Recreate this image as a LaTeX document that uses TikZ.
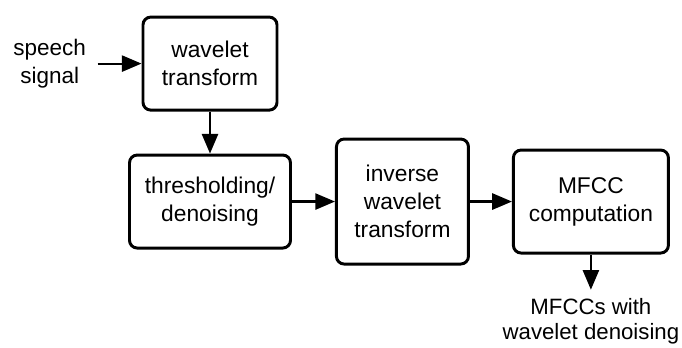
\documentclass[tikz,border=0pt]{standalone}
\usepackage{fontspec}
\setmainfont{Liberation Sans}
\usetikzlibrary{positioning,arrows.meta,backgrounds}
\pgfdeclarelayer{edgelayer}
\pgfdeclarelayer{nodelayer}
\pgfsetlayers{background,edgelayer,nodelayer,main}
\tikzstyle{block}=[draw=black,line width=2.1pt,rounded corners=5.5pt,fill=white,align=center,inner sep=0pt,font=\fontsize{16.2}{20}\selectfont]
\tikzstyle{plain}=[inner sep=8pt,align=center,font=\fontsize{16}{20}\selectfont]
\tikzstyle{flow}=[line width=1.5pt,-{Triangle[length=14pt,width=11.5pt]}]

\begin{document}
\begin{tikzpicture}[node distance=1.05cm]
	\useasboundingbox (0,0) rectangle (17.05,-8.7);
	\begin{pgfonlayer}{nodelayer}
		\node [style=block, minimum width=3.35cm, minimum height=2.325cm] (wt) at (5.25, -1.59) {wavelet\\transform};
		\node [style=block, minimum width=4.025cm, minimum height=2.325cm, below=of wt] (thr) {thresholding/\\denoising};
		\node [style=block, minimum width=3.3cm, minimum height=3.125cm, right=1.075cm of thr] (iwt) {inverse\\wavelet\\transform};
		\node [style=block, minimum width=3.875cm, minimum height=2.575cm, right=of iwt] (mfcc) {MFCC\\computation};
		\node [style=plain, left=1.1cm of wt] (speech) {speech\\signal};
		\node [style=plain, inner ysep=6pt, below=0.88cm of mfcc, font=\fontsize{15.8}{18}\selectfont] (out) {MFCCs with\\wavelet denoising};
	\end{pgfonlayer}
	\begin{pgfonlayer}{edgelayer}
		\draw [style=flow] (speech) to (wt);
		\draw [style=flow] (wt) to (thr);
		\draw [style=flow] (thr) to (iwt);
		\draw [style=flow] (iwt) to (mfcc);
		\draw [style=flow] (mfcc) to (out);
	\end{pgfonlayer}
\end{tikzpicture}
\end{document}
